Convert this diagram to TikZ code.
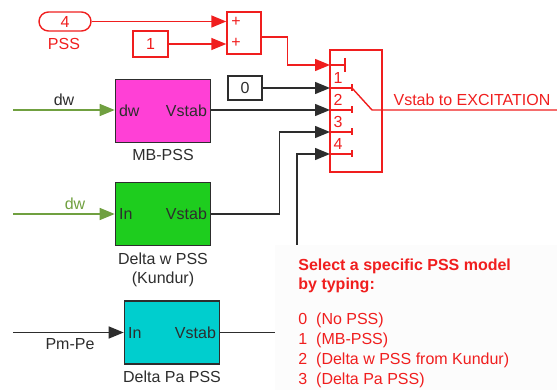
\documentclass[tikz,border=0pt]{standalone}
\usepackage{fontspec}
\setmainfont{Liberation Sans}
\definecolor{SimRed}{RGB}{240,30,30}
\definecolor{SimMagenta}{RGB}{255,64,214}
\definecolor{SimGreen}{RGB}{30,205,30}
\definecolor{SimCyan}{RGB}{0,206,206}
\definecolor{SimOlive}{RGB}{112,160,64}
\definecolor{SimDark}{RGB}{45,45,45}
\usetikzlibrary{
    arrows.meta,
    positioning,
    calc,
}
\tikzset{
    txt/.style={font=\fontsize{8}{9.5}\selectfont, inner sep=1pt},
    blk/.style={draw=SimDark, line width=0.8pt, minimum width=47.5pt, minimum height=31.5pt},
    port/.style={txt, text=SimDark, inner sep=2pt},
    redbox/.style={draw=SimRed, line width=0.7pt, txt, text=SimRed},
    sig/.style={draw=SimDark, line width=0.7pt},
    red sig/.style={draw=SimRed, line width=0.7pt},
    tip/.style={-{Triangle[length=7.5pt,width=6pt]}},
}
\begin{document}
\begin{tikzpicture}[x=0.5pt, y=-0.5pt]
        \useasboundingbox (0,0) rectangle (557,390);
        % PSS selector
        \node[redbox, rounded corners=4.75pt, minimum width=26pt, minimum height=9.5pt] (tag) at (65,21.5) {4};
        \node[txt, text=SimRed] (taglab) at (64,44) {PSS};
        \node[redbox, minimum width=17.5pt, minimum height=13pt] (one) at (150.5,44) {1};
        \node[redbox, minimum width=17pt, minimum height=21pt] (sum) at (244,33) {};
        \node[txt, text=SimRed] at (236,22) {+};
        \node[txt, text=SimRed] at (236,43) {+};
        \draw[red sig, tip] (tag.east) -- (tag.east -| sum.west);
        \draw[red sig, tip] (one.east) -- (one.east -| sum.west);
        % multiport switch
        \node[redbox, minimum width=26pt, minimum height=61pt] (sw) at (356,111) {};
        \coordinate (ctl) at (330,65);
        \foreach \y/\n in {88/1, 110/2, 132/3, 154/4} {
            \coordinate (in\n) at (330,\y);
            \draw[red sig] (in\n) -- ++(22,0);
            \draw[draw=SimRed, line width=1.2pt] (352,\y-3.5) -- (352,\y+3.5);
            \node[txt, text=SimRed] at (338,\y-10) {\n};
        }
        \draw[red sig] (ctl) -- ++(15,0);
        \draw[red sig] (345,58) -- (345,72);
        \coordinate (arm) at (372,110);
        \coordinate (excout) at (557,110);
        \draw[red sig] (352,88) -- (arm) -- (excout);
        \node[txt, text=SimRed] (outlab) at (472,100) {Vstab to EXCITATION};
        \draw[red sig, tip] ($(sum.east)+(0,4)$) -- ++(26,0) |- (ctl);
        % PSS models
        \node[blk, fill=SimMagenta] (mb) at (163,111) {};
        \node[port, anchor=west] at (mb.west) {dw};
        \node[port, anchor=east] at (mb.east) {Vstab};
        \node[txt, text=SimDark, below=2pt of mb] (mblab) {MB-PSS};
        \node[blk, fill=SimGreen] (dwk) at (163,214) {};
        \node[port, anchor=west] at (dwk.west) {In};
        \node[port, anchor=east] at (dwk.east) {Vstab};
        \node[txt, text=SimDark, align=center, below=2pt of dwk] (dwklab) {Delta w PSS\\(Kundur)};
        \node[blk, fill=SimCyan] (dpa) at (172,332.5) {};
        \node[port, anchor=west] at (dpa.west) {In};
        \node[port, anchor=east] at (dpa.east) {Vstab};
        \node[txt, text=SimDark, below=2pt of dpa] (dpalab) {Delta Pa PSS};
        \node[redbox, draw=SimDark, text=SimDark, minimum width=17pt, minimum height=12pt] (zero) at (245,88) {0};
        % inputs
        \coordinate (dwin) at (13,110);
        \coordinate (dwin2) at (13,214);
        \coordinate (pmin) at (13,332.5);
        \draw[draw=SimOlive, line width=0.7pt, tip] (dwin) -- (dwin -| mb.west);
        \node[txt, text=SimDark] at (64,100) {dw};
        \draw[draw=SimOlive, line width=0.7pt, tip] (dwin2) -- (dwk.west);
        \node[txt, text=SimOlive] at (75,204) {dw};
        \draw[sig, tip] (pmin) -- (dpa.west);
        \node[txt, text=SimDark] at (70,344) {Pm-Pe};
        % connections to switch
        \draw[sig, tip] (zero.east) -- (in1);
        \draw[sig, tip] (mb.east |- in2) -- (in2);
        \draw[sig, tip] (dwk.east) -- ++(68,0) |- (in3);
        \coordinate (hid4) at (297,260);
        \draw[sig, tip] (hid4) |- (in4);
        \coordinate (hidpa) at (290,332.5);
        \draw[sig] (dpa.east) -- (hidpa);
        % annotation
        \fill[black!1] (275,245) rectangle (557,390);
        \node[txt, inner sep=0pt, text=SimRed, font=\fontsize{8}{9.5}\selectfont\bfseries, align=left, anchor=north west] (note) at (298,259) {Select a specific PSS model\\by typing:};
        \node[txt, inner sep=0pt, text=SimRed, font=\fontsize{8}{10}\selectfont, align=left, anchor=north west] (opts) at (298,313) {0\ \ (No PSS)\\1\ \ (MB-PSS)\\2\ \ (Delta w PSS from Kundur)\\3\ \ (Delta Pa PSS)};
    \end{tikzpicture}
\end{document}
